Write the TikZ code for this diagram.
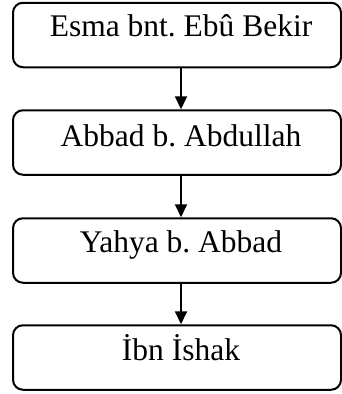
\documentclass[tikz,border=0pt]{standalone}
\usepackage{fontspec}
\setmainfont{Liberation Serif}
\usetikzlibrary{arrows.meta}
\frenchspacing
\begin{document}
\begin{tikzpicture}[x=1pt,y=-1pt,
  boxshape/.style={draw=black,line width=2pt,rounded corners=10pt,minimum width=328pt,minimum height=64.5pt,inner sep=0pt},
  lbl/.style={anchor=base,inner sep=0pt,font=\fontsize{31.5}{36}\selectfont},
  arr/.style={line width=2pt,-{Triangle[length=13pt,width=12pt]}}]
\useasboundingbox (0,0) rectangle (342,394);
\clip (0,0) rectangle (342,394);
\node[boxshape] (b1) at (177,35) {};
\node[boxshape] (b2) at (177,142.5) {};
\node[boxshape] (b3) at (177,250.5) {};
\node[boxshape] (b4) at (177,357.5) {};
\node[lbl] (t1) at (181,36) {Esma bnt. Ebû Bekir};
\node[lbl] (t2) at (181,146) {Abbad b. Abdullah};
\node[lbl] (t3) at (181,252) {Yahya b. Abbad};
\node[lbl] (t4) at (181,360) {İbn İshak};
\draw[arr] (b1.south -| t1) -- (b2.north -| t1);
\draw[arr] (b2.south -| t2) -- (b3.north -| t2);
\draw[arr] (b3.south -| t3) -- (b4.north -| t3);
\end{tikzpicture}
\end{document}
